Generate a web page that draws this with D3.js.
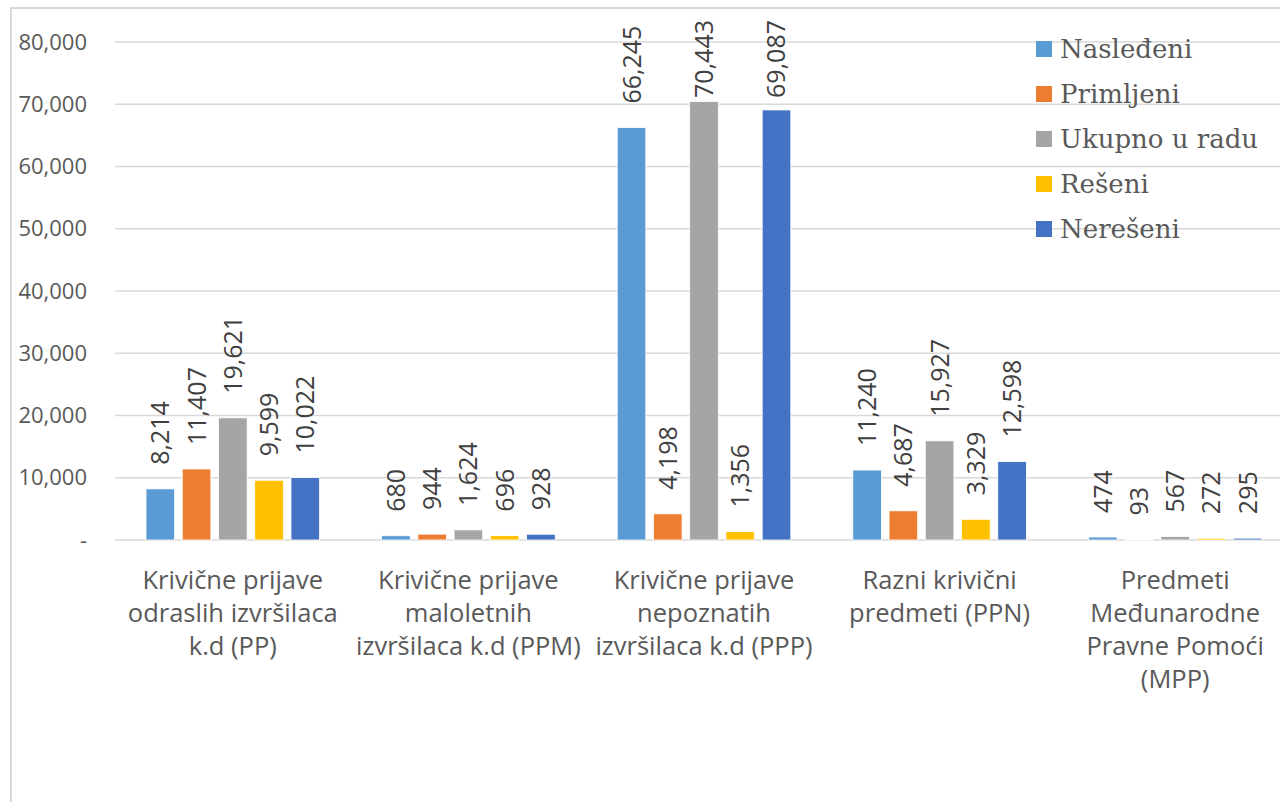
<!DOCTYPE html>
<html>
<head>
<meta charset="utf-8">
<script src="https://cdn.jsdelivr.net/npm/d3@7"></script>
<style>
  body { margin: 0; background: #fff; }
  svg { display: block; }
</style>
</head>
<body>
<div id="chart"></div>
<script>
// data
var categories = [
  ["Krivične prijave", "odraslih izvršilaca", "k.d (PP)"],
  ["Krivične prijave", "maloletnih", "izvršilaca k.d (PPM)"],
  ["Krivične prijave", "nepoznatih", "izvršilaca k.d (PPP)"],
  ["Razni krivični", "predmeti (PPN)"],
  ["Predmeti", "Međunarodne", "Pravne Pomoći", "(MPP)"]
];
var seriesNames = ["Nasleđeni", "Primljeni", "Ukupno u radu", "Rešeni", "Nerešeni"];
var nasledjeni = [8214, 680, 66245, 11240, 474];
var primljeni = [11407, 944, 4198, 4687, 93];
var ukupno = [19621, 1624, 70443, 15927, 567];
var reseni = [9599, 696, 1356, 3329, 272];
var nereseni = [10022, 928, 69087, 12598, 295];
var colors = ["#5B9BD5", "#ED7D31", "#A5A5A5", "#FFC000", "#4472C4"];
var yTicks = [0, 10000, 20000, 30000, 40000, 50000, 60000, 70000, 80000];

var values = [nasledjeni, primljeni, ukupno, reseni, nereseni];

var W = 1280, H = 802;
var svg = d3.select("#chart").append("svg")
  .attr("width", W)
  .attr("height", H);

// outer chart frame
svg.append("rect")
  .attr("x", 11).attr("y", 8)
  .attr("width", 1400).attr("height", 900)
  .attr("fill", "none")
  .attr("stroke", "#d9d9d9")
  .attr("stroke-width", 2);

var plotLeft = 115, plotRight = 1293;

var x0 = d3.scaleBand()
  .domain(d3.range(categories.length))
  .range([plotLeft, plotRight]);

var x1 = d3.scaleBand()
  .domain(d3.range(seriesNames.length))
  .range([31, x0.bandwidth() - 31])
  .paddingInner(0.21);

var y = d3.scaleLinear()
  .domain([0, 80000])
  .range([540, 42]);

// grid
svg.append("g")
  .selectAll("line")
  .data(yTicks)
  .enter().append("line")
  .attr("x1", plotLeft)
  .attr("x2", W)
  .attr("y1", function(d) { return y(d); })
  .attr("y2", function(d) { return y(d); })
  .attr("stroke", "#d9d9d9")
  .attr("stroke-width", 1.5);

// y axis labels
var yAxis = svg.append("g")
  .attr("transform", "translate(" + (plotLeft - 28) + ",0)")
  .call(d3.axisLeft(y).tickValues(yTicks).tickSize(0)
    .tickFormat(function(d) { return d === 0 ? "-" : d3.format(",")(d); }));
yAxis.select(".domain").remove();
yAxis.selectAll("text")
  .attr("x", 0)
  .style("font-family", "'Open Sans', sans-serif")
  .style("font-size", "22px")
  .attr("fill", "#595959");

// bars
var groups = svg.append("g")
  .selectAll("g")
  .data(categories)
  .enter().append("g")
  .attr("transform", function(d, i) { return "translate(" + x0(i) + ",0)"; });

groups.each(function(c, ci) {
  var g = d3.select(this);
  seriesNames.forEach(function(s, si) {
    var v = values[si][ci];
    var bx = x1(si);
    g.append("rect")
      .attr("x", bx)
      .attr("y", y(v))
      .attr("width", x1.bandwidth())
      .attr("height", y(0) - y(v))
      .attr("fill", colors[si])
      .attr("stroke", "#fff")
      .attr("stroke-width", 0.8);

    // rotated value label, kept inside the top of the plot
    var t = g.append("text")
      .attr("text-anchor", "start")
      .style("font-family", "'Open Sans', sans-serif")
      .style("font-size", "25px")
      .attr("fill", "#404040")
      .text(d3.format(",")(v));
    var len = t.node().getComputedTextLength();
    var endY = Math.max(y(v) - 24, 20 + len);
    t.attr("transform", "translate(" + (bx + x1.bandwidth() / 2 + 9) + "," + endY + ") rotate(-90)");
  });
});

// category labels
svg.append("g")
  .selectAll("text")
  .data(categories)
  .enter().append("text")
  .attr("text-anchor", "middle")
  .attr("x", function(d, i) { return x0(i) + x0.bandwidth() / 2; })
  .attr("y", 589)
  .style("font-family", "'Open Sans', sans-serif")
  .style("font-size", "25.5px")
  .attr("fill", "#595959")
  .each(function(d) {
    var t = d3.select(this);
    d.forEach(function(line, li) {
      t.append("tspan")
        .attr("x", t.attr("x"))
        .attr("dy", li === 0 ? 0 : 33)
        .text(line);
    });
  });

// legend
var legend = svg.append("g")
  .selectAll("g")
  .data(seriesNames)
  .enter().append("g")
  .attr("transform", function(d, i) { return "translate(1036," + (41 + i * 45) + ")"; });
legend.append("rect")
  .attr("width", 16).attr("height", 16)
  .attr("fill", function(d, i) { return colors[i]; });
legend.append("text")
  .attr("x", 24)
  .attr("y", 17)
  .style("font-family", "'DejaVu Serif', serif")
  .style("font-size", "26px")
  .attr("fill", "#595959")
  .text(function(d) { return d; });
</script>
</body>
</html>
